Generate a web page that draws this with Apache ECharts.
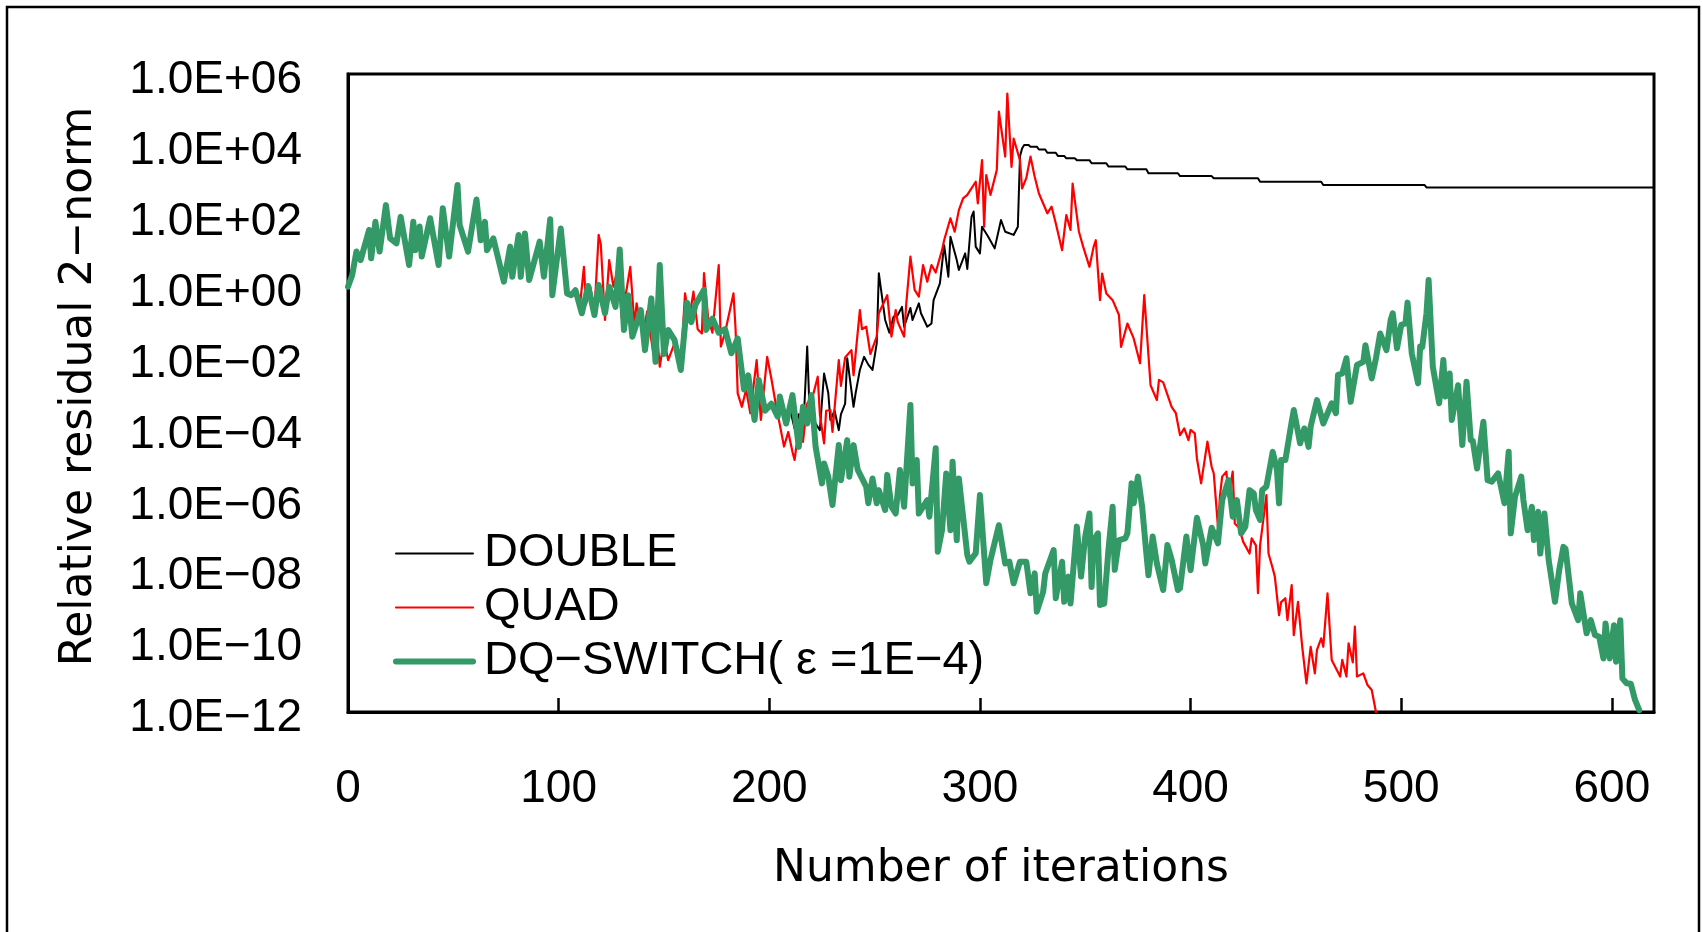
<!DOCTYPE html>
<html>
<head>
<meta charset="utf-8">
<title>Relative residual history</title>
<script src="https://cdn.jsdelivr.net/npm/echarts@6/dist/echarts.min.js"></script>
<style>
  html, body { margin: 0; padding: 0; background: #fff; }
  #chart { width: 1703px; height: 932px; }
</style>
</head>
<body>
<div id="chart"></div>
<script>
// Residual history, stored as [iteration, log10(relative residual 2-norm)].

// DOUBLE and DQ-SWITCH run the same double-precision path until the switch (~iteration 205).
const sharedPath = [
  [0,0.0],[2,0.33],[4,0.99],[6,0.75],[10,1.6],[11,0.8],[13,1.83],[15,0.99],[18,2.3],[20,1.36],
  [23,1.22],[25,1.97],[29,0.61],[31,1.83],[32,1.03],[34,1.7],[35,0.85],[39,1.93],[43,0.61],[45,2.21],
  [48,0.85],[52,2.87],[53,1.74],[57,0.99],[61,2.46],[63,1.31],[65,1.83],[66,1.03],[69,1.36],[74,0.14],
  [77,1.13],[78,0.28],[81,1.46],[82,0.28],[84,1.5],[86,0.19],[91,1.27],[93,0.28],[96,1.9],[97,-0.24],
  [101,1.64],[104,-0.19],[106,-0.24],[108,-0.1],[111,-0.75],[114,0.02],[117,-0.8],[119,0.05],[122,-0.75],[124,0.0],
  [127,-0.57],[129,1.05],[131,-1.22],[133,-0.24],[135,-1.41],[139,-0.66],[141,-1.79],[144,-0.33],[146,-2.12],[148,0.61],
  [150,-1.9],[152,-1.22],[155,-1.5],[158,-2.35],[161,-0.45],[163,-1.0],[165,-0.5],[169,-0.09],[170,-1.22],[173,-0.9],
  [176,-1.3],[179,-1.2],[182,-1.88],[185,-1.46],[188,-2.9],[190,-2.5],[193,-3.76],[195,-2.63],[198,-3.5],[201,-3.3],
  [204,-3.67],[205,-3.1]
];

// QUAD shares the path above up to this iteration.
const quadSplitIter = 108;

const quadTail = [
  [110,-0.6],[112,0.56],[113,-0.5],[115,0.0],[117,-0.7],[119,1.46],[120,1.2],[122,-0.94],[124,0.75],[126,0.0],
  [128,0.5],[130,-0.9],[134,0.56],[136,-1.1],[137,-0.47],[140,-1.41],[142,-0.7],[145,-1.9],[146,-0.8],[148,-2.26],
  [150,-1.5],[152,-2.07],[155,-1.6],[158,-2.2],[160,-0.19],[162,-0.9],[164,-0.14],[166,-1.2],[168,-1.32],[169,0.38],
  [171,-0.9],[173,-1.3],[176,0.61],[177,-1.69],[179,-1.3],[183,-0.19],[184,-1.2],[185,-3.01],[187,-3.39],[189,-2.9],
  [191,-3.57],[194,-2.07],[196,-3.76],[199,-1.98],[201,-2.6],[203,-3.29],[205,-3.9],[207,-4.51],[209,-4.1],[211,-4.66],
  [212,-4.89],[214,-4.0],[216,-4.38],[218,-3.3],[221,-3.01],[223,-2.54],[224,-3.6],[226,-4.42],[227,-3.5],[229,-3.48],
  [230,-4.1],[233,-2.07],[234,-2.8],[236,-2.0],[239,-1.79],[240,-2.5],[243,-0.66],[244,-1.2],[246,-1.13],[248,-1.9],
  [251,-1.41],[252,-0.75],[256,-0.24],[258,-1.41],[260,-0.66],[261,-1.0],[264,-1.41],[265,-0.5],[267,0.85],[269,-0.09],
  [271,-0.28],[273,0.61],[275,0.14],[277,0.61],[279,0.4],[282,1.03],[283,1.31],[286,1.93],[288,1.55],[290,2.16],
  [292,2.49],[294,2.59],[298,2.96],[299,2.35],[301,3.57],[302,1.69],[303,3.15],[305,2.59],[308,3.29],[309,4.94],
  [312,3.67],[313,5.45],[315,3.38],[316,4.18],[319,3.57],[320,2.77],[322,3.06],[324,3.67],[326,3.1],[328,2.63],
  [332,2.07],[334,2.26],[336,1.79],[339,1.03],[341,2.02],[343,1.6],[344,2.91],[347,1.55],[349,1.13],[352,0.56],
  [354,1.13],[355,1.31],[357,-0.38],[358,0.37],[360,-0.19],[363,-0.38],[366,-0.8],[367,-1.7],[370,-1.04],[373,-1.46],
  [376,-2.16],[378,-0.24],[381,-2.78],[384,-3.2],[385,-2.63],[387,-2.7],[391,-3.39],[393,-3.57],[395,-4.19],[397,-4.0],
  [399,-4.33],[400,-4.04],[402,-4.14],[403,-4.84],[405,-5.55],[408,-4.37],[410,-5.08],[411,-5.27],[413,-6.77],[414,-5.88],
  [415,-5.36],[417,-5.22],[418,-5.93],[420,-5.22],[421,-6.68],[423,-6.8],[425,-7.2],[428,-7.53],[429,-7.1],[431,-7.3],
  [432,-8.65],[433,-7.29],[436,-5.88],[437,-7.53],[439,-7.95],[440,-8.18],[442,-9.27],[443,-8.9],[445,-8.79],[446,-9.41],
  [448,-8.42],[449,-9.83],[451,-8.89],[453,-10.16],[455,-11.19],[457,-10.16],[459,-10.91],[460,-10.25],[462,-9.92],[463,-10.16],
  [465,-8.65],[467,-10.53],[471,-11.0],[472,-10.53],[474,-11.0],[475,-10.06],[477,-10.6],[478,-9.59],[479,-11.0],[482,-10.91],
  [484,-11.24],[486,-11.38],[488,-12.0]
];

// DOUBLE after the divergence: stagnates and then settles on a plateau.
const doubleTail = [
  [208,-3.67],[210,-3.5],[212,-4.0],[214,-3.6],[216,-4.2],[218,-1.69],[219,-3.3],[220,-3.76],[222,-3.86],[224,-4.05],
  [226,-2.45],[228,-3.0],[229,-3.76],[231,-3.5],[233,-4.05],[234,-3.6],[236,-3.3],[237,-2.02],[240,-3.39],[241,-3.0],
  [243,-2.35],[245,-1.98],[247,-2.2],[249,-2.35],[251,-1.6],[252,0.38],[255,-0.94],[257,-1.3],[259,-0.85],[261,-0.8],
  [263,-0.57],[264,-1.13],[267,-0.6],[268,-0.94],[271,-0.47],[272,-0.75],[275,-1.13],[277,-1.04],[278,-0.38],[281,0.09],
  [283,1.17],[285,0.28],[286,1.41],[289,0.75],[290,0.47],[293,0.94],[294,0.5],[296,1.97],[297,2.12],[298,1.13],
  [300,0.94],[301,1.69],[304,1.4],[307,1.08],[310,1.88],[312,1.55],[316,1.46],[318,1.69],[319,3.67],[320,3.9],
  [321,4.0],[323,4.0],[324,3.95],[327,3.95],[328,3.87],[331,3.87],[332,3.78],[336,3.78],[337,3.69],[340,3.69],
  [341,3.62],[345,3.62],[346,3.57],[352,3.57],[353,3.48],[360,3.48],[361,3.39],[369,3.39],[370,3.31],[379,3.31],
  [380,3.2],[394,3.2],[395,3.12],[410,3.12],[411,3.06],[432,3.06],[433,2.96],[462,2.96],[463,2.87],[511,2.87],
  [512,2.8],[620,2.8]
];

// DQ-SWITCH after switching to quad precision at 1E-4.
const switchTail = [
  [208,-3.86],[211,-3.06],[214,-4.52],[216,-3.39],[218,-3.86],[220,-3.06],[222,-4.52],[225,-5.55],[226,-4.99],[228,-5.36],
  [230,-6.16],[233,-4.47],[234,-5.46],[237,-4.33],[238,-5.36],[240,-4.47],[242,-5.17],[246,-5.64],[247,-6.11],[249,-5.41],
  [251,-6.11],[252,-5.74],[255,-6.3],[256,-5.31],[258,-6.21],[260,-6.4],[262,-5.17],[264,-6.21],[267,-3.34],[268,-5.55],
  [270,-4.89],[271,-6.4],[275,-6.02],[276,-6.49],[279,-4.56],[280,-7.48],[282,-6.87],[284,-5.27],[286,-6.87],[287,-4.94],
  [289,-7.15],[290,-5.41],[294,-7.57],[295,-7.76],[298,-7.52],[300,-5.88],[303,-8.37],[305,-7.71],[309,-6.73],[312,-7.81],
  [314,-7.76],[316,-8.37],[319,-7.76],[322,-7.76],[324,-8.65],[326,-8.09],[327,-9.17],[330,-8.61],[331,-8.09],[335,-7.43],
  [336,-8.79],[339,-7.76],[340,-8.89],[342,-8.18],[343,-8.94],[346,-6.77],[348,-8.18],[350,-7.05],[352,-6.4],[353,-8.47],
  [354,-7.15],[356,-6.96],[357,-8.98],[359,-8.94],[361,-7.43],[363,-6.21],[364,-7.99],[366,-7.15],[369,-7.1],[370,-6.96],
  [372,-5.55],[373,-6.11],[375,-5.36],[377,-6.21],[379,-7.52],[380,-8.14],[382,-7.05],[384,-7.81],[387,-8.56],[389,-7.29],
  [391,-7.7],[394,-8.56],[395,-8.51],[398,-7.05],[400,-8.0],[403,-6.52],[406,-7.3],[407,-7.81],[410,-6.8],[413,-7.24],
  [415,-6.02],[418,-5.46],[420,-6.49],[422,-6.02],[424,-6.96],[426,-6.77],[428,-5.74],[430,-5.83],[431,-6.3],[433,-6.58],
  [434,-5.74],[436,-5.64],[439,-4.66],[441,-5.17],[442,-6.11],[443,-4.89],[445,-4.89],[448,-3.81],[449,-3.48],[452,-4.42],
  [454,-4.0],[456,-4.52],[457,-3.95],[460,-3.2],[463,-3.86],[467,-3.29],[469,-3.57],[470,-2.49],[472,-2.45],[474,-2.02],
  [476,-3.25],[479,-2.21],[482,-2.12],[483,-1.65],[486,-2.59],[488,-2.02],[490,-1.32],[493,-1.79],[495,-0.94],[496,-0.75],
  [498,-1.74],[500,-1.08],[502,-1.04],[503,-0.45],[505,-1.88],[508,-2.73],[509,-1.69],[510,-1.7],[512,-0.75],[513,0.19],
  [515,-2.26],[518,-3.29],[520,-2.07],[521,-3.1],[523,-2.45],[524,-3.76],[527,-2.78],[529,-4.47],[531,-2.68],[533,-4.33],
  [534,-4.35],[536,-5.13],[539,-3.81],[541,-5.46],[543,-5.5],[546,-5.27],[549,-6.11],[551,-4.66],[552,-6.96],[554,-5.93],
  [557,-5.36],[558,-6.02],[560,-6.87],[562,-6.21],[563,-7.15],[565,-6.35],[566,-7.53],[568,-6.4],[570,-7.71],[573,-8.89],
  [575,-7.99],[577,-7.34],[578,-7.4],[581,-8.94],[584,-9.41],[585,-8.65],[588,-9.78],[590,-9.41],[592,-9.83],[594,-9.88],
  [596,-10.49],[597,-9.5],[599,-10.49],[601,-9.55],[602,-10.58],[604,-9.41],[605,-11.05],[607,-11.19],[609,-11.2],[611,-11.66],
  [613,-11.95]
];

const seriesNames = ['DOUBLE', 'QUAD', 'DQ\u2212SWITCH( \u03b5 =1E\u22124)'];
const seriesColors = ['#000000', '#ff0000', '#339966'];
const seriesWidths = [2, 2.2, 6];
const xTickValues = [0, 100, 200, 300, 400, 500, 600];
const yExponentRange = [-12, 6];

const toPoints = path => path.map(([it, lg]) => [it, Math.pow(10, lg)]);
const doubleData = toPoints(sharedPath.concat(doubleTail));
const quadData = toPoints(sharedPath.filter(p => p[0] <= quadSplitIter).concat(quadTail));
const switchData = toPoints(sharedPath.concat(switchTail));
const seriesData = [doubleData, quadData, switchData];

const FONT = '"Liberation Sans", Arial, sans-serif';
const TITLE_FONT = '"DejaVu Sans", "Liberation Sans", sans-serif';

function expLabel(v) {
  const e = Math.round(Math.log10(v));
  const s = String(Math.abs(e)).padStart(2, '0');
  return '{v|1.0E' + (e < 0 ? '\u2212' : '+') + s + '}';
}

const chart = echarts.init(document.getElementById('chart'), null, { renderer: 'canvas' });
chart.setOption({
  animation: false,
  backgroundColor: '#fff',
  graphic: [{
    type: 'rect',
    shape: { x: 7, y: 7, width: 1692, height: 940 },
    style: { fill: 'none', stroke: '#000', lineWidth: 2.5 },
    silent: true, z: 100
  }],
  grid: {
    left: 348, top: 74, right: 49, bottom: 220,
    show: true, borderColor: '#000', borderWidth: 3, backgroundColor: 'transparent'
  },
  legend: {
    orient: 'vertical',
    left: 393, top: 530, padding: 0,
    itemWidth: 77, itemHeight: 14, itemGap: 7,
    data: seriesNames.map((n, i) => ({
      name: n,
      itemStyle: { opacity: 0 },
      lineStyle: { color: seriesColors[i], width: seriesWidths[i] }
    })),
    itemStyle: { opacity: 0 },
    textStyle: { fontFamily: FONT, fontSize: 47, color: '#000', lineHeight: 47, padding: [0, 0, 0, 6] },
    selectedMode: false
  },
  xAxis: {
    type: 'value',
    min: 0, max: 620, interval: 100,
    name: 'Number of iterations',
    nameLocation: 'middle', nameGap: 136,
    nameTextStyle: { fontFamily: TITLE_FONT, fontSize: 44, color: '#000' },
    axisLine: { show: true, lineStyle: { color: '#000', width: 3 } },
    axisTick: { show: true, inside: true, length: 14, lineStyle: { color: '#000', width: 2.5 } },
    axisLabel: {
      fontFamily: FONT, fontSize: 46, color: '#000', margin: 54, showMaxLabel: false,
      formatter: v => (xTickValues.indexOf(v) >= 0 ? String(v) : '')
    },
    splitLine: { show: false }
  },
  yAxis: {
    type: 'log', logBase: 10,
    min: Math.pow(10, yExponentRange[0]), max: Math.pow(10, yExponentRange[1]),
    interval: 2,
    name: 'Relative residual 2\u2212norm',
    nameLocation: 'middle', nameGap: 246, nameRotate: 90,
    nameTextStyle: { fontFamily: TITLE_FONT, fontSize: 44, color: '#000', padding: [0, 0, 0, 13] },
    axisLine: { show: true, lineStyle: { color: '#000', width: 3 } },
    axisTick: { show: false },
    axisLabel: {
      color: '#000', margin: 46,
      formatter: expLabel,
      rich: { v: { fontFamily: FONT, fontSize: 46, color: '#000', padding: [13, 0, 0, 0] } }
    },
    splitLine: { show: false },
    minorTick: { show: false }
  },
  series: seriesNames.map((n, i) => ({
    name: n, type: 'line', data: seriesData[i],
    symbol: 'none', showSymbol: false, clip: true,
    lineStyle: { color: seriesColors[i], width: seriesWidths[i], join: 'round', cap: 'round' },
    itemStyle: { color: seriesColors[i] }
  }))
});
</script>
</body>
</html>
